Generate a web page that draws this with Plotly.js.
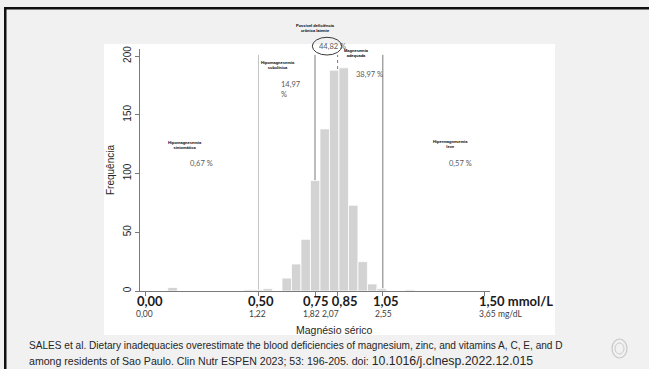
<!DOCTYPE html>
<html>
<head>
<meta charset="utf-8">
<script src="https://cdn.plot.ly/plotly-3.0.1.min.js"></script>
<style>html,body{margin:0;padding:0;background:#f1f1f1;}#chart{width:649px;height:369px;}</style>
</head>
<body>
<div id="chart"></div>
<script>
// ---- data ----
const binCenters = [0.120, 0.457, 0.499, 0.541, 0.625, 0.667, 0.709, 0.751, 0.793, 0.835, 0.877, 0.919, 0.961, 1.003, 1.045, 1.171];
const counts     = [3,     1,     1,     2,     11,    23,    44,    94,    138,   188,   190,   73,    25,    6,     2,     1];
const cutoffs = [0.50, 0.75, 0.85, 1.05];
const tickValsMmol = [0.00, 0.50, 0.75, 0.85, 1.05, 1.50];
const yTicks = [0, 50, 100, 150, 200];
const rangeLabels = ["Hipomagnesemia<br>sintomática", "Hipomagnesemia<br>subclínica", "Possível deficiência<br>crônica latente", "Magnesemia<br>adequada", "Hipermagnesemia<br>leve"];
const rangePercents = ["0,67 %", "14,97<br>%", "44,82 %", "38,97 %", "0,57 %"];
const mmolText = ["0,00", "0,50", "0,75 0,85", "1,05", "1,50 mmol/L"];
const mgText = ["0,00", "1,22", "1,82 2,07", "2,55", "3,65 mg/dL"];

// ---- geometry helpers (pixel -> paper) ----
const L = 140, R = 159, T = 49, B = 78, W = 649, H = 369;
const PW = W - L - R, PH = H - T - B;
const PX = p => (p - L) / PW;
const PY = p => (H - B - p) / PH;

const shapes = [];
// slide white panel
shapes.push({type:'rect', xref:'paper', yref:'paper', x0:PX(104), x1:PX(555), y0:PY(335), y1:PY(44), fillcolor:'#ffffff', line:{width:0}, layer:'below'});
// slide borders
shapes.push({type:'rect', xref:'paper', yref:'paper', x0:PX(4), x1:PX(649), y0:PY(9.5), y1:PY(7), fillcolor:'#111111', line:{width:0}, layer:'above'});
shapes.push({type:'rect', xref:'paper', yref:'paper', x0:PX(4), x1:PX(6.5), y0:PY(369), y1:PY(7), fillcolor:'#111111', line:{width:0}, layer:'above'});
// cutoff lines
const cutStyle = [
  {color:'#c4c4c4', dash:'solid'},
  {color:'#7a7a7a', dash:'solid'},
  {color:'#7a7a7a', dash:'dot'},
  {color:'#7a7a7a', dash:'solid'}
];
cutoffs.forEach((c, i) => {
  shapes.push({type:'line', xref:'x', yref:'y', x0:c, x1:c, y0:0, y1:201, line:{color:cutStyle[i].color, width:1, dash:cutStyle[i].dash}, layer:'below'});
});
// ellipse around 44,82 %
shapes.push({type:'circle', xref:'paper', yref:'paper', x0:PX(312.3), x1:PX(341.7), y0:PY(55), y1:PY(37.3), line:{color:'#3a3a3a', width:1}, layer:'above'});
// logo-ish icon bottom right
shapes.push({type:'circle', xref:'paper', yref:'paper', x0:PX(612), x1:PX(627), y0:PY(358), y1:PY(339), line:{color:'#c8c8c8', width:1.2}, layer:'above'});
shapes.push({type:'circle', xref:'paper', yref:'paper', x0:PX(615), x1:PX(624), y0:PY(354), y1:PY(343), line:{color:'#c8c8c8', width:1}, layer:'above'});

const ann = [];
function txt(text, x, y, o) {
  ann.push(Object.assign({text:text, xref:'paper', yref:'paper', x:PX(x), y:PY(y), showarrow:false, xanchor:'center', yanchor:'middle',
    font:{family:'Liberation Sans, Arial', size:10, color:'#262626'}}, o || {}));
}
// bold mmol/L tick labels
const boldFont = {family:'Lato, Open Sans, sans-serif', size:13, color:'#1a1a1a'};
txt("<b>" + mmolText[0] + "</b>", 149.5, 301, {font:boldFont});
txt("<b>" + mmolText[1] + "</b>", 261, 301, {font:boldFont});
txt("<b>" + mmolText[2] + "</b>", 329.5, 301, {font:boldFont});
txt("<b>" + mmolText[3] + "</b>", 386, 301, {font:boldFont});
txt("<b>" + mmolText[4] + "</b>", 476.7, 301, {font:boldFont, xanchor:'left'});
// mg/dL labels
const smallFont = {family:'Lato, Open Sans, sans-serif', size:8.5, color:'#404040'};
txt(mgText[0], 144, 313.5, {font:smallFont});
txt(mgText[1], 257.5, 313.5, {font:smallFont});
txt(mgText[2], 321, 313.5, {font:smallFont});
txt(mgText[3], 383, 313.5, {font:smallFont});
txt(mgText[4], 476.7, 313.5, {font:smallFont, xanchor:'left'});
// x title
txt("Magnésio sérico", 334, 330, {font:{family:'Liberation Sans, Arial', size:10.5, color:'#262626'}});
// citation
txt("SALES et al. Dietary inadequacies overestimate the blood deficiencies of magnesium, zinc, and vitamins A, C, E, and D", 27, 345.5, {xanchor:'left', font:{family:'Liberation Sans, Arial', size:10.1, color:'#262626'}});
txt("among residents of Sao Paulo. Clin Nutr ESPEN 2023; 53: 196-205. doi: <span style='font-size:12.3px'>10.1016/j.clnesp.2022.12.015</span>", 27, 361, {xanchor:'left', font:{family:'Liberation Sans, Arial', size:10.6, color:'#262626'}});
// tiny range labels
const tinyFont = {family:'Liberation Sans, Arial', size:4, color:'#000000'};
txt("<b>" + rangeLabels[0] + "</b>", 185, 145, {font:tinyFont});
txt("<b>" + rangeLabels[1] + "</b>", 277.5, 65, {font:tinyFont});
txt("<b>" + rangeLabels[2] + "</b>", 315, 27.5, {font:tinyFont});
txt("<b>" + rangeLabels[3] + "</b>", 356, 53, {font:tinyFont});
txt("<b>" + rangeLabels[4] + "</b>", 450, 143.5, {font:tinyFont});
// percentages
const pctFont = {family:'Lato, Open Sans, sans-serif', size:7.5, color:'#595959'};
txt(rangePercents[0], 201, 163.3, {font:pctFont});
txt(rangePercents[1], 279.3, 89.3, {font:pctFont, xanchor:'left', align:'left'});
txt(rangePercents[2], 316.7, 46.7, {font:pctFont, xanchor:'left'});
txt(rangePercents[3], 354.3, 74, {font:pctFont, xanchor:'left'});
txt(rangePercents[4], 460.5, 163.3, {font:pctFont});

const trace = {
  type:'bar', x:binCenters, y:counts, width:0.042,
  marker:{color:'#d3d3d3', line:{color:'#ffffff', width:0.8}},
  hoverinfo:'skip'
};

const layout = {
  width:W, height:H,
  margin:{l:L, r:R, t:T, b:B, pad:0},
  paper_bgcolor:'#f1f1f1', plot_bgcolor:'#ffffff',
  showlegend:false,
  bargap:0,
  xaxis:{range:[-0.024, 1.524], showgrid:false, zeroline:false, showline:true, linecolor:'#7a7a7a', linewidth:1,
    ticks:'outside', ticklen:4, tickcolor:'#7a7a7a', tickvals:tickValsMmol, showticklabels:false, fixedrange:true},
  yaxis:{range:[0, 206], showgrid:false, zeroline:false, showline:true, linecolor:'#7a7a7a', linewidth:1,
    ticks:'outside', ticklen:4, tickcolor:'#7a7a7a', tickvals:yTicks, tickangle:-90,
    tickfont:{family:'Liberation Sans, Arial', size:10, color:'#262626'},
    title:{text:'Frequência', font:{family:'Liberation Sans, Arial', size:10, color:'#262626'}, standoff:5},
    fixedrange:true},
  shapes:shapes,
  annotations:ann
};

Plotly.newPlot('chart', [trace], layout, {staticPlot:true, displayModeBar:false});
</script>
</body>
</html>
